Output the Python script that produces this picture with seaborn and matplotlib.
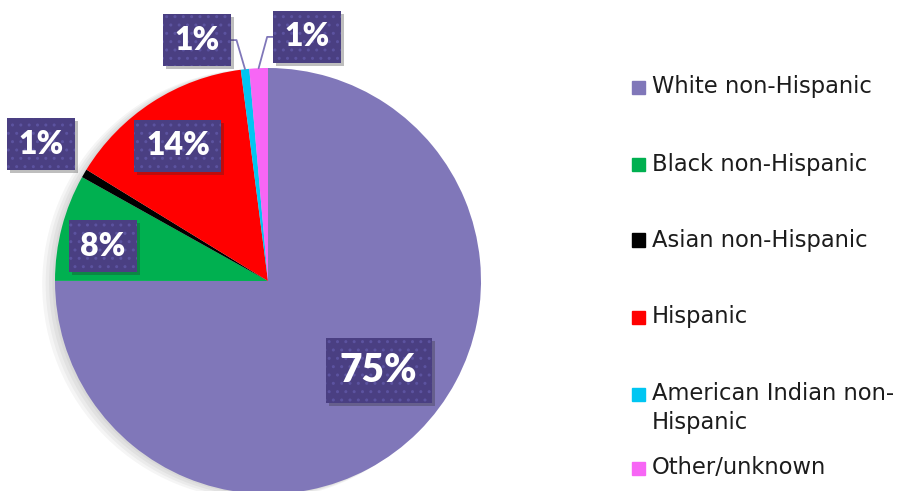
import matplotlib
matplotlib.use("Agg")
import matplotlib.pyplot as plt
from matplotlib.patches import Rectangle, Circle
from matplotlib.transforms import IdentityTransform
import numpy as np
import seaborn as sns

# data (percent of total)
groups = ["White non-Hispanic", "Black non-Hispanic", "Asian non-Hispanic",
          "Hispanic", "American Indian non-\nHispanic", "Other/unknown"]
shares = [75.0, 8.1, 0.65, 14.2, 0.64, 1.4]
colors = ["#8077b9", "#00b050", "#000000", "#ff0000", "#00c6f2", "#f766f5"]

# where each % box sits (in pie-radius units, manual placement like the original)
label_pos = [(0.52, -0.42), (-0.775, 0.164), (-1.066, 0.643),
             (-0.423, 0.634), (-0.333, 1.131), (0.183, 1.146)]

sns.set_style("white")
plt.rcParams['font.family'] = ['DejaVu Sans']

fig = plt.figure(figsize=(9.07, 4.91), dpi=100)
W, H = 907, 491
cx, cy, r = 268, 281, 213
ax = fig.add_axes([(cx - r) / W, (H - cy - r) / H, 2 * r / W, 2 * r / H])

# soft shadow behind the whole pie
for k in range(4):
    ax.add_patch(Circle((-0.012 * (k + 1), -0.004 * (k + 1)), 1.0 + 0.004 * k,
                        color="#000000", alpha=0.04, lw=0, zorder=0, clip_on=False))

wedges, _ = ax.pie(shares, colors=colors, startangle=90, counterclock=False,
                   wedgeprops=dict(linewidth=0, zorder=1))
ax.set_xlim(-1, 1)
ax.set_ylim(-1, 1)
ax.set_aspect("equal")
ax.axis("off")

# leader lines for the two tiny slices at the top
for i, side in [(4, -1), (5, 1)]:
    w = wedges[i]
    th = np.deg2rad((w.theta1 + w.theta2) / 2)
    ex, ey = np.cos(th), np.sin(th)
    lx, ly = label_pos[i]
    box_edge = lx - side * 0.14
    elbow = ex + side * 0.04
    ax.plot([box_edge, elbow, ex], [ly, ly, ey], color="#8077b9", lw=1.3,
            clip_on=False, zorder=3)

labels = []
for i, (v, (lx, ly)) in enumerate(zip(shares, label_pos)):
    t = ax.text(lx, ly, f"{round(v)}%", ha="center", va="center",
                fontweight="heavy", fontsize=28 if i == 0 else 23,
                family=["Lato", "DejaVu Sans"], clip_on=False,
                color="white", zorder=5,
                bbox=dict(boxstyle="square,pad=0.36", fc="#4a3f82",
                          ec="#5c53a0", hatch="..", lw=0))
    labels.append(t)

# drop shadows under the label boxes
fig.canvas.draw()
for t in labels:
    bb = t.get_bbox_patch().get_window_extent()
    ax.add_artist(Rectangle((bb.x0 + 3, bb.y0 - 3), bb.width, bb.height,
                            transform=IdentityTransform(), fc="#2a2a2a",
                            alpha=0.3, lw=0, zorder=4, clip_on=False))

# legend on the right
leg_y = [87, 164, 240, 317, 394, 468]
for g, c, y in zip(groups, colors, leg_y):
    fig.patches.append(Rectangle((632 / W, (H - y - 6.5) / H), 13 / W, 13 / H,
                                 transform=fig.transFigure, color=c))
    for j, line in enumerate(g.split("\n")):
        fig.text(652 / W, (H - y - 29 * j) / H, line, ha="left", va="center",
                 fontsize=16.3, color="#1c1c1c")

fig.savefig("out.png", dpi=100)
